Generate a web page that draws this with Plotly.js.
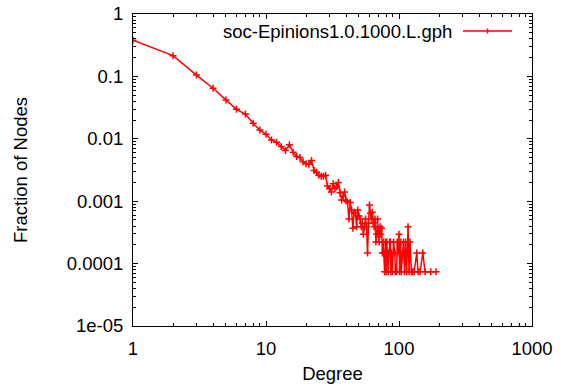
<!DOCTYPE html>
<html>
<head>
<meta charset="utf-8">
<script src="https://cdn.plot.ly/plotly-3.0.1.min.js"></script>
<style>
html,body{margin:0;padding:0;background:#fff;}
#chart{width:567px;height:387px;}
</style>
</head>
<body>
<div id="chart"></div>
<script>
var seriesName = "soc-Epinions1.0.1000.L.gph";

var degree = [
  1, 2, 3, 4, 5, 6, 7, 8, 9, 10,
  11, 12, 13, 14, 15, 16, 17, 18, 19, 20,
  21, 22, 23, 24, 25, 26, 27, 28, 29, 30,
  31, 32, 33, 34, 35, 36, 37, 38, 39, 40,
  41, 42, 43, 44, 45, 46, 47, 48, 49, 50,
  51, 52, 53, 54, 55, 56, 57, 58, 59, 60,
  61, 62, 63, 64, 65, 66, 67, 68, 69, 70,
  71, 72, 73, 74, 75, 76, 77, 78, 79, 80,
  81, 82, 83, 84, 85, 86, 87, 88, 89, 91,
  93, 94, 96, 97, 98, 100, 101, 103, 104, 106,
  108, 110, 112, 114, 115, 117, 119, 121, 124, 127,
  130, 136, 139, 144, 151, 157, 173, 190
];

var fraction = [
  0.38, 0.215, 0.105, 0.0645, 0.042, 0.0297, 0.0249, 0.0177, 0.0138, 0.0118,
  0.0096, 0.0088, 0.0075, 0.0065, 0.0080, 0.0061, 0.0052, 0.0050, 0.0043, 0.0040,
  0.0039, 0.0045, 0.0031, 0.0029, 0.0026, 0.0025, 0.0025, 0.0026, 0.00175, 0.0016,
  0.0014, 0.0019, 0.0016, 0.0017, 0.0020, 0.00137, 0.00105, 0.0012, 0.0014, 0.00102,
  0.00098, 0.000518, 0.00095, 0.00072, 0.00037, 0.000666, 0.00064, 0.00039, 0.00072, 0.00058,
  0.000518, 0.00039, 0.000444, 0.000296, 0.00039, 0.000518, 0.00039, 0.000148, 0.000444, 0.00087,
  0.00064, 0.000518, 0.000666, 0.000444, 0.00039, 0.000518, 0.000222, 0.000296, 0.000518, 0.000296,
  0.000222, 0.00039, 0.000296, 0.00037, 0.000148, 0.000222, 0.000148, 0.000074, 0.000222, 0.000074,
  0.000222, 0.000148, 0.000074, 0.000148, 0.000222, 0.000222, 0.000074, 0.000148, 0.000074, 0.000222,
  0.000148, 0.000074, 0.000074, 0.000222, 0.000148, 0.000296, 0.000074, 0.000222, 0.000074, 0.000148,
  0.000222, 0.000074, 0.000222, 0.000074, 0.000148, 0.00039, 0.000074, 0.000222, 0.000074, 0.000074,
  0.000074, 0.000148, 0.000074, 0.000074, 0.000148, 0.000074, 0.000074, 0.000074
];

var xTickVals = [1, 10, 100, 1000];
var xTickText = ["1", "10", "100", "1000"];
var yTickVals = [1, 0.1, 0.01, 0.001, 0.0001, 0.00001];
var yTickText = ["1", "0.1", "0.01", "0.001", "0.0001", "1e-05"];

var FONT = "Liberation Sans, Arial, Helvetica, sans-serif";
var FS = 18.5;
var RED = "#ff0000";

var trace = {
  x: degree,
  y: fraction,
  type: "scatter",
  mode: "lines+markers",
  name: seriesName,
  line: {color: RED, width: 1.5},
  marker: {symbol: "cross-thin-open", size: 5, color: RED, line: {color: RED, width: 1.5}},
  showlegend: false,
  cliponaxis: true
};

var axisCommon = {
  type: "log",
  showgrid: false,
  zeroline: false,
  showline: true,
  linecolor: "#000",
  linewidth: 1,
  mirror: "allticks",
  ticks: "inside",
  ticklen: 5,
  tickwidth: 1,
  tickcolor: "#000",
  tickmode: "array",
  tickfont: {family: FONT, size: FS, color: "#000"},
  minor: {ticks: "inside", ticklen: 3, tickwidth: 1, tickcolor: "#000", showgrid: false, dtick: "D1"}
};

var xaxis = Object.assign({}, axisCommon, {
  range: [0, 3],
  tickvals: xTickVals,
  ticktext: xTickText,
  ticklabelstandoff: 6,
  title: {text: "Degree", font: {family: FONT, size: FS, color: "#000"}, standoff: 8}
});
var yaxis = Object.assign({}, axisCommon, {
  range: [-5, 0],
  tickvals: yTickVals,
  ticktext: yTickText,
  ticklabelstandoff: 5,
  title: {text: "Fraction of Nodes", font: {family: FONT, size: FS, color: "#000"}, standoff: 34}
});

var lx0 = (463 - 133) / 399, lx1 = (512 - 133) / 399, ly = 1 - (31 - 14) / 312;

var layout = {
  width: 567,
  height: 387,
  margin: {l: 133, r: 35, t: 14, b: 61},
  paper_bgcolor: "#fff",
  plot_bgcolor: "#fff",
  xaxis: xaxis,
  yaxis: yaxis,
  showlegend: false,
  annotations: [{
    xref: "paper", yref: "paper",
    x: (454 - 133) / 399, y: ly,
    xanchor: "right", yanchor: "middle",
    text: seriesName,
    showarrow: false,
    font: {family: FONT, size: FS, color: "#000"}
  }],
  shapes: [
    {type: "line", xref: "paper", yref: "paper", x0: lx0, x1: lx1, y0: ly, y1: ly,
     line: {color: RED, width: 1.5}},
    {type: "line", xref: "paper", yref: "paper",
     x0: (487.5 - 133) / 399, x1: (487.5 - 133) / 399,
     y0: ly - 2.5 / 312, y1: ly + 2.5 / 312, line: {color: RED, width: 1.5}}
  ]
};

Plotly.newPlot("chart", [trace], layout, {staticPlot: true, displayModeBar: false});
</script>
</body>
</html>
